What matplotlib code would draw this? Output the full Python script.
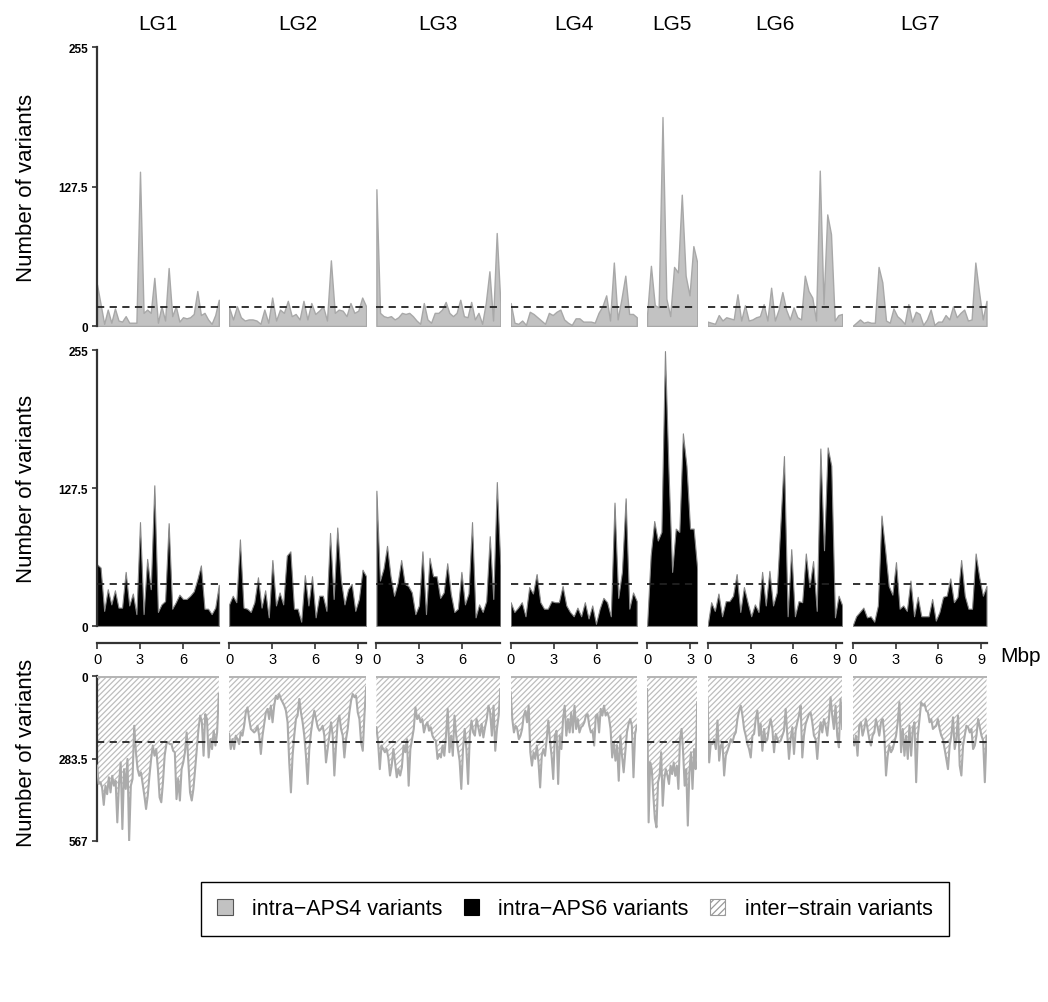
import numpy as np
import matplotlib
matplotlib.use("Agg")
import matplotlib.pyplot as plt
from matplotlib.patches import Patch

plt.rcParams['font.family'] = ['Liberation Sans', 'DejaVu Sans']
plt.rcParams['hatch.linewidth'] = 0.9

# ---------------- data ----------------
CHROMS = ["LG1", "LG2", "LG3", "LG4", "LG5", "LG6", "LG7"]
CHROM_LEN = [8.5, 9.56, 8.65, 8.8, 3.5, 9.4, 9.35]   # Mbp
X_TICKS = [0, 3, 6, 9]

MEAN_APS4 = 17
MEAN_APS6 = 38.5
MEAN_INTER = 226

APS4_LG1 = [38, 20, 2, 15, 3, 16, 5, 4, 9, 3, 3, 3, 141, 12, 15, 12, 44, 3, 18, 5, 53, 9, 18, 4, 8, 7, 8, 11, 32, 10, 12, 6, 2, 10, 24]
APS4_LG2 = [17, 6, 18, 8, 5, 6, 6, 5, 2, 15, 3, 26, 5, 15, 12, 23, 9, 11, 6, 23, 6, 21, 11, 14, 18, 5, 60, 12, 15, 14, 9, 21, 12, 14, 26, 18]
APS4_LG3 = [125, 12, 9, 8, 9, 6, 8, 12, 11, 12, 9, 5, 2, 21, 6, 3, 12, 12, 15, 22, 12, 9, 12, 24, 9, 8, 22, 6, 12, 2, 21, 50, 5, 85, 21]
APS4_LG4 = [21, 3, 2, 5, 1, 13, 11, 8, 5, 2, 12, 10, 13, 15, 6, 3, 1, 7, 7, 4, 4, 4, 3, 12, 18, 28, 5, 58, 6, 25, 46, 11, 11, 8]
APS4_LG5 = [10, 55, 19, 17, 191, 25, 9, 54, 49, 120, 46, 28, 73, 58]
APS4_LG6 = [4, 3, 2, 10, 5, 8, 7, 6, 29, 5, 19, 5, 6, 8, 9, 20, 5, 35, 5, 15, 31, 15, 6, 17, 8, 6, 46, 32, 26, 5, 142, 20, 102, 84, 5, 10, 11]
APS4_LG7 = [0, 3, 6, 3, 4, 3, 3, 54, 40, 5, 3, 16, 9, 6, 2, 20, 4, 13, 11, 1, 6, 15, 1, 4, 4, 10, 6, 18, 8, 12, 15, 5, 6, 58, 31, 6, 23]

APS6_LG1 = [57, 54, 14, 34, 20, 33, 17, 17, 50, 19, 30, 11, 96, 11, 62, 34, 130, 13, 20, 23, 95, 16, 22, 29, 25, 25, 28, 32, 43, 56, 16, 16, 11, 17, 38]
APS6_LG2 = [20, 28, 22, 80, 17, 16, 13, 22, 45, 17, 33, 8, 61, 19, 31, 20, 65, 69, 16, 16, 4, 47, 19, 46, 8, 28, 28, 14, 86, 25, 91, 43, 20, 34, 39, 14, 25, 52, 46]
APS6_LG3 = [125, 42, 53, 74, 46, 28, 40, 61, 39, 37, 31, 11, 19, 69, 11, 63, 46, 46, 26, 31, 58, 30, 13, 16, 50, 20, 30, 96, 8, 20, 13, 23, 83, 25, 133, 56]
APS6_LG4 = [22, 13, 17, 22, 9, 36, 30, 48, 22, 16, 16, 23, 22, 22, 37, 19, 13, 9, 17, 9, 22, 7, 19, 2, 16, 26, 22, 9, 114, 26, 50, 118, 16, 31, 23]
APS6_LG5 = [0, 65, 97, 79, 87, 254, 142, 50, 90, 87, 178, 148, 90, 90, 53]
APS6_LG6 = [0, 22, 14, 30, 9, 23, 23, 28, 48, 13, 36, 22, 9, 20, 13, 50, 19, 51, 19, 31, 93, 157, 9, 71, 9, 23, 22, 67, 36, 60, 14, 164, 70, 165, 148, 8, 28, 19]
APS6_LG7 = [0, 9, 13, 17, 8, 9, 4, 19, 102, 71, 37, 29, 59, 16, 19, 14, 42, 9, 27, 9, 9, 9, 25, 5, 13, 27, 28, 44, 22, 27, 61, 28, 16, 16, 67, 45, 28, 37]

INTER_LG1 = [308, 371, 365, 383, 443, 377, 406, 348, 400, 343, 377, 360, 503, 371, 297, 526, 320, 388, 285, 566,
             377, 354, 171, 262, 320, 343, 331, 371, 411, 457, 411, 343, 285, 239, 274, 251, 320, 417, 434, 365,
             274, 234, 228, 234, 234, 257, 262, 423, 354, 428, 320, 297, 262, 194, 297, 400, 428, 388, 320, 251,
             182, 136, 159, 274, 131, 148, 280, 217, 251, 188, 239, 194, 62]
INTER_LG2 = [199, 251, 217, 251, 205, 217, 234, 194, 205, 171, 125, 108, 148, 182, 188, 194, 188, 171, 205, 268,
             205, 165, 125, 113, 148, 102, 159, 102, 68, 79, 62, 79, 90, 102, 119, 159, 297, 400, 274, 205,
             148, 136, 79, 125, 159, 205, 274, 371, 251, 194, 153, 119, 148, 176, 188, 182, 171, 205, 297, 251,
             205, 159, 205, 342, 239, 159, 136, 182, 205, 280, 217, 182, 125, 85, 62, 73, 68, 125, 148, 228,
             257, 136, 39]
INTER_LG3 = [176, 228, 320, 239, 251, 262, 251, 280, 342, 308, 251, 297, 348, 320, 342, 314, 239, 262, 217, 377,
             251, 217, 182, 108, 148, 136, 159, 148, 194, 171, 159, 188, 176, 205, 217, 222, 285, 268, 280, 239,
             274, 205, 113, 262, 205, 274, 136, 205, 251, 291, 388, 251, 182, 251, 371, 205, 153, 194, 205, 148,
             176, 205, 165, 211, 176, 148, 102, 125, 205, 102, 257, 182, 136, 45]
INTER_LG4 = [56, 148, 194, 171, 182, 217, 205, 182, 136, 119, 159, 102, 262, 308, 262, 285, 239, 297, 383, 274,
             251, 274, 217, 153, 222, 274, 354, 205, 188, 371, 205, 251, 148, 102, 205, 148, 194, 125, 194, 102,
             182, 148, 194, 176, 171, 159, 136, 131, 171, 194, 188, 239, 136, 131, 194, 113, 136, 102, 136, 125,
             142, 182, 280, 228, 291, 239, 360, 205, 274, 331, 262, 194, 165, 148, 171, 348, 199, 171]
INTER_LG5 = [45, 503, 297, 320, 411, 491, 520, 365, 343, 262, 446, 354, 320, 343, 371, 308, 337, 297, 343, 308,
             388, 217, 182, 262, 377, 320, 514, 331, 262, 388, 251, 320, 90]
INTER_LG6 = [79, 297, 228, 234, 217, 251, 153, 291, 239, 228, 342, 274, 257, 239, 217, 228, 205, 194, 148, 119,
             102, 136, 182, 205, 234, 251, 280, 205, 199, 148, 119, 205, 165, 257, 182, 228, 217, 176, 148, 182,
             262, 199, 217, 228, 222, 205, 188, 113, 205, 285, 217, 176, 268, 188, 159, 136, 102, 280, 205, 165,
             148, 131, 125, 159, 205, 217, 285, 205, 159, 194, 148, 171, 205, 148, 73, 136, 182, 102, 205, 245,
             79, 182]
INTER_LG7 = [205, 239, 205, 274, 171, 159, 205, 182, 148, 182, 217, 239, 205, 194, 148, 176, 205, 159, 148, 205,
             342, 274, 239, 262, 251, 228, 205, 159, 90, 262, 182, 274, 205, 285, 171, 274, 182, 159, 365, 205,
             148, 90, 102, 96, 119, 125, 159, 148, 182, 176, 171, 148, 182, 205, 217, 251, 285, 320, 239, 205,
             142, 251, 217, 136, 308, 342, 239, 205, 171, 176, 194, 182, 251, 239, 205, 148, 176, 205, 222, 365,
             205]

APS4 = [APS4_LG1, APS4_LG2, APS4_LG3, APS4_LG4, APS4_LG5, APS4_LG6, APS4_LG7]
APS6 = [APS6_LG1, APS6_LG2, APS6_LG3, APS6_LG4, APS6_LG5, APS6_LG6, APS6_LG7]
INTER = [INTER_LG1, INTER_LG2, INTER_LG3, INTER_LG4, INTER_LG5, INTER_LG6, INTER_LG7]

# ---------------- layout ----------------
W, H = 1048, 1003
fig = plt.figure(figsize=(W / 100, H / 100), dpi=100)

LEFT_PX = 97.0
PX_PER_MBP = 14.33
GAP_PX = 10.3
ROWS = {  # (top px, bottom px)
    "top": (48, 327),
    "mid": (351, 627),
    "bot": (677, 842),
}

def frac_box(x0, x1, y0, y1):
    return [x0 / W, 1 - y1 / H, (x1 - x0) / W, (y1 - y0) / H]

dash_kw = dict(color="#222222", lw=1.3, dashes=(4, 3), zorder=5)
spine_col = "#333333"

x_cursor = LEFT_PX
for i, (name, L) in enumerate(zip(CHROMS, CHROM_LEN)):
    x0 = x_cursor
    x1 = x0 + L * PX_PER_MBP
    x_cursor = x1 + GAP_PX

    axs = {}
    for key, (yt, yb) in ROWS.items():
        ax = fig.add_axes(frac_box(x0, x1, yt, yb))
        ax.set_xlim(0, L)
        for s in ["top", "right", "bottom", "left"]:
            ax.spines[s].set_visible(False)
        ax.tick_params(axis="x", which="both", bottom=False, labelbottom=False)
        ax.tick_params(axis="y", which="both", left=False, labelleft=False)
        ax.patch.set_alpha(0)
        axs[key] = ax

    # top: intra-APS4
    ax = axs["top"]
    v = np.array(APS4[i], dtype=float)
    x = np.linspace(0, L, len(v))
    ax.fill_between(x, 0, v, facecolor="#c2c2c2", edgecolor="#a8a8a8", lw=1.0, zorder=2)
    ax.set_ylim(0, 255)
    ax.axhline(MEAN_APS4, **dash_kw)

    # middle: intra-APS6
    ax = axs["mid"]
    v = np.array(APS6[i], dtype=float)
    x = np.linspace(0, L, len(v))
    ax.fill_between(x, 0, v, facecolor="black", edgecolor="#888888", lw=0.8, zorder=2)
    ax.set_ylim(0, 255)
    ax.axhline(MEAN_APS6, **dash_kw)
    # x-axis (Mbp) drawn below the middle row
    ax.spines["bottom"].set_visible(True)
    ax.spines["bottom"].set_position(("outward", 12.5))
    ax.spines["bottom"].set_color(spine_col)
    ax.spines["bottom"].set_linewidth(1.6)
    ticks = [t for t in X_TICKS if t <= L]
    ax.set_xticks(ticks)
    ax.set_xticklabels([str(t) for t in ticks])
    ax.tick_params(axis="x", bottom=True, labelbottom=True, direction="out",
                   length=4.5, width=1.2, color=spine_col, labelsize=10.5, pad=1.5)

    # bottom: inter-strain (inverted)
    ax = axs["bot"]
    v = np.array(INTER[i], dtype=float)
    x = np.linspace(0, L, len(v))
    ax.fill_between(x, 0, v, facecolor="white", edgecolor="#bdbdbd", hatch="//////", lw=0, zorder=1)
    ax.plot(x, v, color="#ababab", lw=1.5, zorder=3)
    ax.axhline(0, color="#b5b5b5", lw=2.2, zorder=3)
    ax.set_ylim(567, 0)
    ax.axhline(MEAN_INTER, **dash_kw)

    # title
    fig.text(((x0 + x1) / 2) / W, 1 - 25 / H, name, ha="center", va="center", fontsize=15)

    if i == 0:
        for key, ticks_y, labels_y in [("top", [0, 127.5, 255], ["0", "127.5", "255"]),
                                       ("mid", [0, 127.5, 255], ["0", "127.5", "255"]),
                                       ("bot", [0, 283.5, 567], ["0", "283.5", "567"])]:
            a = axs[key]
            a.spines["left"].set_visible(True)
            a.spines["left"].set_color(spine_col)
            a.spines["left"].set_linewidth(1.6)
            a.set_yticks(ticks_y)
            a.set_yticklabels(labels_y, fontweight="bold")
            a.tick_params(axis="y", left=True, labelleft=True, direction="out",
                          length=3.5, width=1.2, color=spine_col, labelsize=8.5, pad=3)

# y labels
for yc in [(48 + 327) / 2, (351 + 627) / 2, 753]:
    fig.text(27 / W, 1 - yc / H, "Number of variants", rotation=90,
             ha="center", va="center", fontsize=16)

fig.text(1000 / W, 1 - 657 / H, "Mbp", ha="left", va="center", fontsize=15)

handles = [
    Patch(facecolor="#c2c2c2", edgecolor="#555555", lw=0.8, label="intra\u2212APS4 variants"),
    Patch(facecolor="black", edgecolor="black", lw=0.8, label="intra\u2212APS6 variants"),
    Patch(facecolor="white", edgecolor="#9a9a9a", hatch="/////", lw=0.8, label="inter\u2212strain variants"),
]
leg = fig.legend(handles=handles, loc="center", bbox_to_anchor=(575 / W, 1 - 910 / H),
                 ncol=3, fontsize=15.5, frameon=True, fancybox=False, framealpha=1,
                 edgecolor="black", handlelength=0.7, handleheight=0.7,
                 handletextpad=0.9, columnspacing=1.0, borderpad=0.75, borderaxespad=0)
leg.get_frame().set_linewidth(1.0)

fig.savefig("out.png", dpi=100)
